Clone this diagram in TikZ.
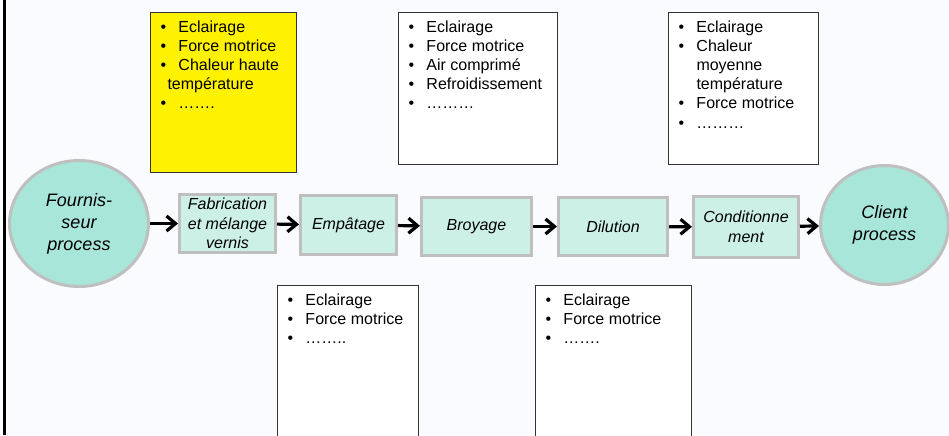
\documentclass[tikz,border=0pt]{standalone}
\usepackage{fontspec}
\setmainfont{Liberation Sans}
\usetikzlibrary{shapes.geometric,arrows.meta}
\definecolor{fond}{RGB}{249,251,254}
\definecolor{menthe}{RGB}{204,240,230}
\definecolor{turquoise}{RGB}{168,230,218}
\definecolor{bordure}{RGB}{191,191,191}
\newcommand{\puce}{\makebox[9pt][l]{\textbullet}}
\newcommand{\bloc}[3]{\begin{minipage}[t][#2][t]{#1}#3\end{minipage}}

\tikzset{
    etape/.style={draw=bordure, line width=1.5pt, fill=menthe, inner sep=0pt,
        align=center, font=\fontsize{8}{9.75}\selectfont\itshape},
    acteur/.style={ellipse, draw=bordure, line width=1.5pt, fill=turquoise,
        inner sep=0pt, align=center, font=\fontsize{9}{11}\selectfont\itshape},
    besoins/.style={draw=black!80, line width=0.5pt, fill=white, anchor=north west,
        inner xsep=5pt, inner ysep=4pt, font=\fontsize{8}{9.6}\selectfont},
    flux/.style={-{Straight Barb[length=4.5pt,width=7.5pt]}, line width=1.6pt},
}

\begin{document}
\begin{tikzpicture}[x=0.5pt, y=-0.5pt]
    \useasboundingbox (0,0) rectangle (949,435);
    \clip (0,0) rectangle (949,435);
    \fill[fond] (0,0) rectangle (949,435);
    \fill[black] (3,0) rectangle (6,435);

    \node[acteur, minimum width=69.5pt, minimum height=63pt] (fournisseur) at (79,223.5) {Fournis-\\seur\\process};
    \node[etape, minimum width=48pt, minimum height=29pt] (fabrication) at (227.5,223.5) {Fabrication\\et mélange\\vernis};
    \node[etape, minimum width=48pt, minimum height=29.5pt] (empatage) at (348.5,225) {Empâtage};
    \node[etape, minimum width=55pt, minimum height=29pt] (broyage) at (476.5,226.5) {Broyage};
    \node[etape, minimum width=54.5pt, minimum height=29pt] (dilution) at (613,226.5) {Dilution};
    \node[etape, minimum width=52.5pt, minimum height=30.5pt] (conditionnement) at (746,227) {Conditionne\\ment};
    \node[acteur, minimum width=64pt, minimum height=59.5pt] (client) at (884.5,225) {Client\\process};

    \draw[flux] (fournisseur) -- (fabrication);
    \draw[flux] (fabrication) -- (empatage);
    \draw[flux] (empatage) -- (broyage);
    \draw[flux] (broyage) -- (dilution);
    \draw[flux] (dilution) -- (conditionnement);
    \draw[flux] (conditionnement) -- (client);

    \node[besoins, fill=yellow] (besoinsFabrication) at (150,12) {\bloc{63pt}{72pt}{%
        \puce Eclairage\\
        \puce Force motrice\\
        \puce Chaleur haute\\
        \hspace*{3.5pt}température\\
        \puce …….}};
    \node[besoins] (besoinsBroyage) at (398,12) {\bloc{69.5pt}{68pt}{%
        \puce Eclairage\\
        \puce Force motrice\\
        \puce Air comprimé\\
        \puce Refroidissement\\
        \puce ………}};
    \node[besoins] (besoinsConditionnement) at (668,12) {\bloc{65pt}{68pt}{%
        \puce Eclairage\\
        \puce Chaleur\\
        \hspace*{9pt}moyenne\\
        \hspace*{9pt}température\\
        \puce Force motrice\\
        \puce ………}};
    \node[besoins] (besoinsEmpatage) at (277,285) {\bloc{60.5pt}{92pt}{%
        \puce Eclairage\\
        \puce Force motrice\\
        \puce ……..}};
    \node[besoins] (besoinsDilution) at (535,285) {\bloc{68pt}{92pt}{%
        \puce Eclairage\\
        \puce Force motrice\\
        \puce …….}};
\end{tikzpicture}
\end{document}
